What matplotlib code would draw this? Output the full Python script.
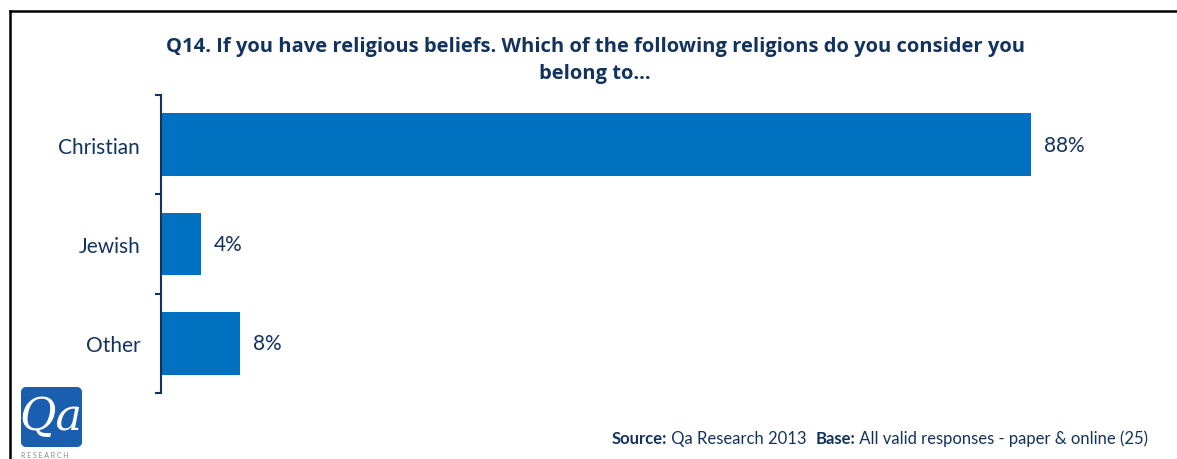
import matplotlib
matplotlib.use("Agg")
import matplotlib.pyplot as plt
import numpy as np
from matplotlib.patches import FancyBboxPatch
from matplotlib.lines import Line2D

categories = ["Christian", "Jewish", "Other"]
values = [88, 4, 8]
title_line1 = "Q14. If you have religious beliefs. Which of the following religions do you consider you"
title_line2 = "belong to..."
source_parts = [("Source:", "bold"), (" Qa Research 2013  ", "normal"), ("Base:", "bold"),
                (" All valid responses - paper & online (25)", "normal")]

W, H = 1177, 460
BAR = "#0070C0"
NAVY = "#13335F"
FONT = "Lato"

fig = plt.figure(figsize=(W / 100, H / 100), dpi=100)
fig.patch.set_facecolor("white")

def fx(px):
    return px / W

def fy(py):
    return 1 - py / H

ax = fig.add_axes([fx(161), fy(394), fx(988.6), (394 - 96) / H])
y = np.arange(len(categories))
ax.barh(y, values, height=0.63, color=BAR, edgecolor="none")
ax.set_xlim(0, 100)
ax.set_ylim(len(categories) - 0.5, -0.5)
for s in ["top", "right", "bottom"]:
    ax.spines[s].set_visible(False)
ax.spines["left"].set_color(NAVY)
ax.spines["left"].set_linewidth(1.5)
ax.set_xticks([])
ax.set_yticks(y)
ax.set_yticklabels(categories, fontsize=15, color=NAVY, family=FONT)
ax.tick_params(axis="y", which="major", length=0, pad=15)
ax.set_yticks(np.arange(-0.5, len(categories), 1.0), minor=True)
ax.tick_params(axis="y", which="minor", length=4, width=1.5, color=NAVY, direction="out")

for yi, v in zip(y, values):
    ax.annotate(f"{v}%", xy=(v, yi), xytext=(9.5, 0), textcoords="offset points",
                ha="left", va="center", fontsize=15, color=NAVY, family=FONT)

fig.text(fx(595), fy(52), title_line1, ha="center", va="baseline", fontsize=14.5,
         fontweight="bold", color=NAVY, family="Open Sans")
fig.text(fx(595), fy(79), title_line2, ha="center", va="baseline", fontsize=14.5,
         fontweight="bold", color=NAVY, family="Open Sans")

# frame
fig.add_artist(Line2D([fx(10), 1.0], [fy(12), fy(12)], color="black", lw=1.8, transform=fig.transFigure))
fig.add_artist(Line2D([fx(10), fx(10)], [0, fy(12)], color="black", lw=1.8, transform=fig.transFigure))

# source line
renderer = fig.canvas.get_renderer()
xpos = 612
for txt, wt in source_parts:
    t = fig.text(fx(xpos), fy(444), txt, ha="left", va="baseline", fontsize=12,
                 fontweight=wt, color=NAVY, family=FONT)
    bb = t.get_window_extent(renderer=renderer)
    xpos += bb.width

# logo
lax = fig.add_axes([fx(18), 10 / H, fx(67), 64 / H])
lax.set_xlim(0, 67)
lax.set_ylim(0, 64)
lax.axis("off")
patch = FancyBboxPatch((3, 2), 61, 60, boxstyle="round,pad=0,rounding_size=6",
                       facecolor="#1A5FAF", edgecolor="none")
lax.add_patch(patch)
grad = np.linspace(0, 1, 100).reshape(-1, 1)
im = lax.imshow(grad, extent=(3, 64, 2, 62), origin="lower", aspect="auto",
                cmap=matplotlib.colors.LinearSegmentedColormap.from_list("g", ["#0C3F8C", "#2C78C8"]))
im.set_clip_path(patch)
lax.text(33, 33, "Qa", ha="center", va="center", fontsize=32, color="white",
         family="DejaVu Serif", style="italic")
fig.text(fx(21), 1 / H, "R E S E A R C H", ha="left", va="bottom", fontsize=5,
         color="#8A8A8A", family=FONT)

fig.savefig("out.png", dpi=100, facecolor="white")
